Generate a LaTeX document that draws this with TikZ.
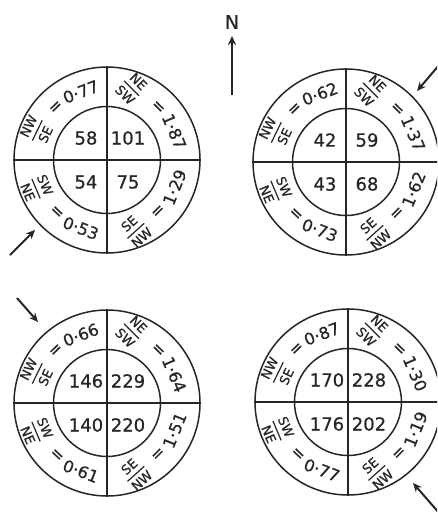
\documentclass[tikz,border=0pt]{standalone}
\usepackage{amsmath}
\usepackage{fontspec}
\setmainfont{DejaVu Sans}[FakeBold=0.7]
\usetikzlibrary{arrows.meta}

\newcommand\qfr[2]{$\genfrac{}{}{1.2pt}{0}{\mbox{#1}}{\mbox{#2}}$}

\tikzset{
  x=1pt, y=1pt,
  ink/.style={draw=black!85, line width=1.5pt},
  outerc/.style={ink, circle, minimum size=186pt, inner sep=0pt},
  innerc/.style={ink, circle, minimum size=107pt, inner sep=0pt},
  fraclab/.style={inner sep=0pt, text=black!85, font=\fontsize{13}{13}\selectfont},
  eqlab/.style={inner sep=0pt, text=black!85, font=\fontsize{16}{16}\selectfont},
  vallab/.style={inner sep=0pt, text=black!85, font=\fontsize{16.5}{16.5}\selectfont},
  innum/.style={inner sep=0pt, text=black!85, font=\fontsize{18}{18}\selectfont},
  windarrow/.style={draw=black!85, line width=2pt, -{Stealth[length=9pt,width=8pt]}},
}

% #1 circle, #2 position angle, #3 rotation, #4 num, #5 den
\newcommand\frq[5]{\node[fraclab, rotate=#3] (#1#5f) at ([shift={(#2:76)}]#1) {\qfr{#4}{#5}};}
\newcommand\eqq[4]{\node[eqlab, rotate=#2#3] (#1#4e) at ([shift={(#2:73)}]#1) {=};}
\newcommand\vlq[5]{\node[vallab, rotate=#2#3] (#1#4v) at ([shift={(#2:73)}]#1) {#5};}

\newcommand\rose[9]{%
  \node[outerc] (#1) at (#1pos) {};
  \node[innerc] (#1in) at (#1pos) {};
  \draw[ink] (#1.north) -- (#1.south);
  \draw[ink] (#1.west) -- (#1.east);
  \node[innum] (#1a) at ([shift={(-21,22)}]#1pos) {#2};
  \node[innum] (#1b) at ([shift={(21,22)}]#1pos) {#3};
  \node[innum] (#1c) at ([shift={(-21,-22)}]#1pos) {#4};
  \node[innum] (#1d) at ([shift={(21,-22)}]#1pos) {#5};
  \frq{#1}{157}{64}{NW}{SE}
  \eqq{#1}{134}{-90}{tl}
  \vlq{#1}{111}{-90}{tl}{#6}
  \frq{#1}{71}{-45}{NE}{SW}
  \eqq{#1}{46}{-90}{tr}
  \vlq{#1}{23}{-90}{tr}{#7}
  \frq{#1}{202}{-67}{SW}{NE}
  \eqq{#1}{226}{+90}{bl}
  \vlq{#1}{249}{+90}{bl}{#8}
  \frq{#1}{292}{42}{SE}{NW}
  \eqq{#1}{315}{+90}{br}
  \vlq{#1}{338}{+90}{br}{#9}
}

\begin{document}
\begin{tikzpicture}
\useasboundingbox (0,0) rectangle (437,-512);
\clip (0,0) rectangle (437,-512);
\fill[white] (0,0) rectangle (437,-512);

\coordinate (c1pos) at (107,-160);
\coordinate (c2pos) at (346,-162);
\coordinate (c3pos) at (107,-403);
\coordinate (c4pos) at (348,-402);

\rose{c1}{58}{101}{54}{75}{0·77}{1·87}{0·53}{1·29}
\rose{c2}{42}{59}{43}{68}{0·62}{1·37}{0·73}{1·62}
\rose{c3}{146}{229}{140}{220}{0·66}{1·64}{0·61}{1·51}
\rose{c4}{170}{228}{176}{202}{0·87}{1·30}{0·77}{1·19}

\node[inner sep=0pt, text=black!85, font=\fontsize{19}{19}\selectfont] (north) at (232,-22) {N};
\coordinate (nb) at (232,-95);
\coordinate (nt) at (232,-36);
\draw[windarrow] (nb) -- (nt);

\coordinate (w1a) at (10,-255);  \coordinate (w1b) at (35,-230);
\coordinate (w2a) at (440,-64);  \coordinate (w2b) at (417,-91);
\coordinate (w3a) at (17,-298);  \coordinate (w3b) at (38,-322);
\coordinate (w4a) at (440,-514); \coordinate (w4b) at (413,-483);
\draw[windarrow] (w1a) -- (w1b);
\draw[windarrow] (w2a) -- (w2b);
\draw[windarrow] (w3a) -- (w3b);
\draw[windarrow] (w4a) -- (w4b);
\end{tikzpicture}
\end{document}
